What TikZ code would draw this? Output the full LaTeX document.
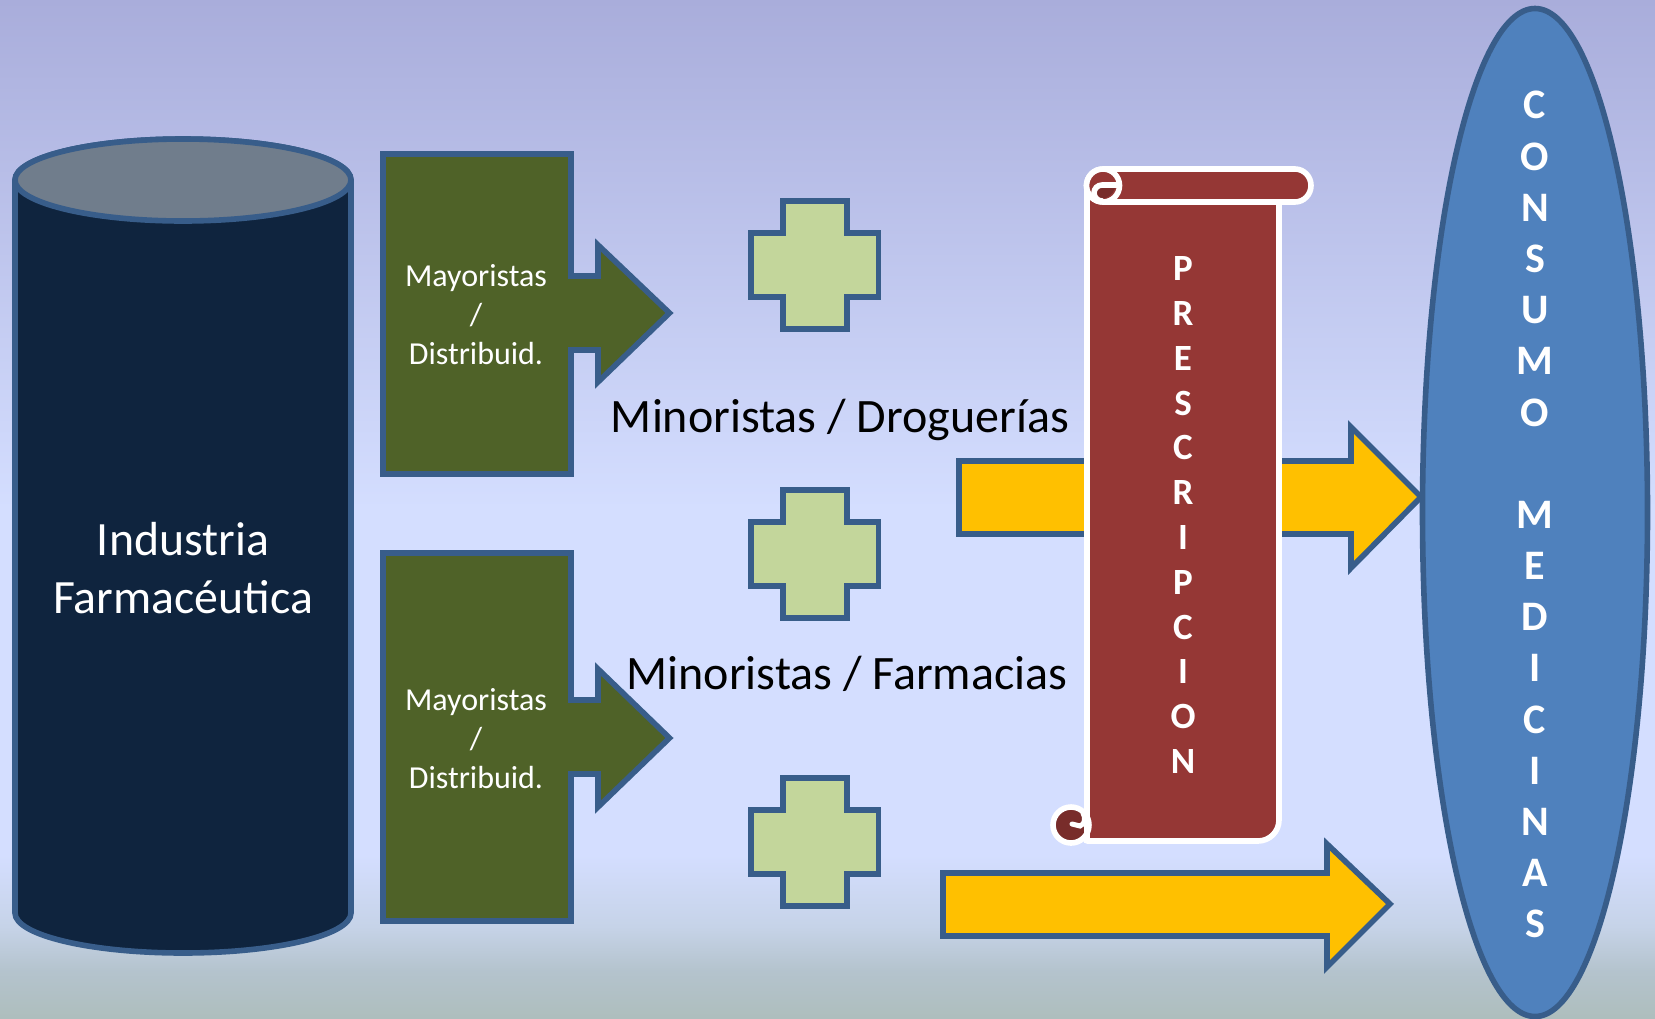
\documentclass[tikz,border=0pt]{standalone}
\usepackage{fontspec}
\setmainfont{Carlito}
\definecolor{edgeblue}{RGB}{56,93,138}
\definecolor{navy}{RGB}{15,36,62}
\definecolor{capgrey}{RGB}{112,125,140}
\definecolor{olive}{RGB}{79,98,40}
\definecolor{palegreen}{RGB}{195,214,155}
\definecolor{amber}{RGB}{255,192,0}
\definecolor{brick}{RGB}{149,55,53}
\definecolor{brickdark}{RGB}{120,44,42}
\definecolor{ovalblue}{RGB}{79,129,189}
\definecolor{bga}{RGB}{174,190,189}
\definecolor{bgb}{RGB}{180,195,205}
\definecolor{bgc}{RGB}{198,211,232}
\definecolor{bgd}{RGB}{212,222,255}
\definecolor{bgf}{RGB}{169,173,219}
% TikZ fits the path to the central 25bp..75bp band of a vertical shading
\pgfdeclareverticalshading{bggrad}{100bp}{
 color(0bp)=(bga);
 color(25bp)=(bga);
 color(27.3bp)=(bgb);
 color(29.5bp)=(bgc);
 color(33bp)=(bgd);
 color(50bp)=(bgd);
 color(75bp)=(bgf);
 color(100bp)=(bgf)}
\tikzset{
 x=0.5pt,y=-0.5pt,
 solidshape/.style={draw=edgeblue,line width=2.8pt,line join=miter},
 smalltext/.style={text=white,font=\fontsize{16}{16}\selectfont,inner sep=0pt},
 bigtext/.style={text=white,font=\fontsize{23.9}{24}\selectfont,inner sep=0pt},
 midtext/.style={text=black,font=\fontsize{24}{24}\selectfont,inner sep=0pt},
 letterp/.style={text=white,font=\fontsize{18.5}{18.5}\selectfont\bfseries,inner sep=0pt},
 letterc/.style={text=white,font=\fontsize{21}{21}\selectfont\bfseries,inner sep=0pt},
 scrollline/.style={draw=white,line width=2.8pt,line join=round}
}
\begin{document}
\begin{tikzpicture}
\useasboundingbox (0,0) rectangle (1655,1018);
\clip (0,0) rectangle (1655,1018);
\shade[shading=bggrad] (0,0) rectangle (1655,1018);
% cylinder
\path[solidshape,fill=navy] (15,180) -- (15,913) arc[start angle=180,end angle=0,x radius=168,y radius=40] -- (351,180) arc[start angle=0,end angle=-180,x radius=168,y radius=41] -- cycle;
\path[solidshape,fill=capgrey] (183,180) ellipse[x radius=168,y radius=41];
\node[bigtext] (ind1) at (183,539) {Industria};
\node[bigtext] (ind2) at (183,597) {Farmacéutica};
% olive arrows
\path[solidshape,fill=olive] (383,154) -- (571,154) -- (571,276) -- (598,276) -- (598,245) -- (669.5,313) -- (598,382) -- (598,350) -- (571,350) -- (571,474) -- (383,474) -- cycle;
\path[solidshape,fill=olive] (383,553) -- (571,553) -- (571,700) -- (598,700) -- (598,669) -- (669.5,738) -- (598,807) -- (598,774) -- (571,774) -- (571,921) -- (383,921) -- cycle;
\node[smalltext] (may1) at (476,278) {Mayoristas};
\node[smalltext] (sl1) at (476,315) {/};
\node[smalltext] (dis1) at (476,353.5) {Distribuid.};
\node[smalltext] (may2) at (476,702) {Mayoristas};
\node[smalltext] (sl2) at (476,739) {/};
\node[smalltext] (dis2) at (476,777.5) {Distribuid.};
% crosses
\foreach \cy in {265,554,842}{
 \path[solidshape,fill=palegreen] (783,\cy-64) -- (847,\cy-64) -- (847,\cy-32) -- (878.5,\cy-32) -- (878.5,\cy+32) -- (847,\cy+32) -- (847,\cy+64) -- (783,\cy+64) -- (783,\cy+32) -- (751,\cy+32) -- (751,\cy-32) -- (783,\cy-32) -- cycle;
}
\node[midtext] (dro) at (840,420) {Minoristas / Droguerías};
\node[midtext] (far) at (847,674) {Minoristas / Farmacias};
% amber arrows
\path[solidshape,fill=amber] (959,461) -- (1351,461) -- (1351,427) -- (1421,497) -- (1351,568) -- (1351,534) -- (959,534) -- cycle;
\path[solidshape,fill=amber] (943,873) -- (1327,873) -- (1327,844) -- (1390,904) -- (1327,967) -- (1327,936) -- (943,936) -- cycle;
% scroll
\path[scrollline,fill=brick] (1087,186) -- (1087,841) -- (1258,841) arc[start angle=90,end angle=0,radius=21] -- (1279,190) -- cycle;
\path[scrollline,fill=brick] (1103,169) -- (1295,169) arc[start angle=-90,end angle=90,x radius=16,y radius=16.5] -- (1103,202) arc[start angle=90,end angle=270,radius=16.5] -- cycle;
\path[scrollline,fill=brick] (1103,169) arc[start angle=-90,end angle=270,radius=16.5];
\path[fill=brickdark] (1098,188) -- (1115,188) .. controls (1113,195) and (1106,199) .. (1101,199) .. controls (1097,196) and (1096,192) .. (1098,188) -- cycle;
\path[draw=white,line width=2.8pt,line cap=round] (1119,185) -- (1102,185) arc[start angle=-90,end angle=-270,radius=8];
% lower curl
\path[draw=white,line width=2.8pt,fill=brickdark] (1089,825) arc[start angle=0,end angle=360,radius=18];
\path[draw=white,line width=2.8pt] (1087,808) -- (1087,843);
\path[draw=white,line width=2.5pt,line cap=round] (1072,824) -- (1080,826) .. controls (1086,824) and (1085,817) .. (1083,813);
\node[letterp] (p1) at (1183,268.5) {P};
\node[letterp] (p2) at (1183,313.5) {R};
\node[letterp] (p3) at (1183,358.5) {E};
\node[letterp] (p4) at (1183,403.5) {S};
\node[letterp] (p5) at (1183,447.5) {C};
\node[letterp] (p6) at (1183,492.5) {R};
\node[letterp] (p7) at (1183,537.5) {I};
\node[letterp] (p8) at (1183,582.5) {P};
\node[letterp] (p9) at (1183,627.5) {C};
\node[letterp] (p10) at (1183,671.5) {I};
\node[letterp] (p11) at (1183,716.5) {O};
\node[letterp] (p12) at (1183,761.5) {N};
% oval
\path[solidshape,fill=ovalblue] (1535,512.5) ellipse[x radius=112.5,y radius=504];
\node[letterc] (c1) at (1535,105) {C};
\node[letterc] (c2) at (1535,157) {O};
\node[letterc] (c3) at (1535,208) {N};
\node[letterc] (c4) at (1535,259) {S};
\node[letterc] (c5) at (1535,310) {U};
\node[letterc] (c6) at (1535,361) {M};
\node[letterc] (c7) at (1535,413) {O};
\node[letterc] (c8) at (1535,515) {M};
\node[letterc] (c9) at (1535,566) {E};
\node[letterc] (c10) at (1535,617) {D};
\node[letterc] (c11) at (1535,668) {I};
\node[letterc] (c12) at (1535,720) {C};
\node[letterc] (c13) at (1535,771) {I};
\node[letterc] (c14) at (1535,822) {N};
\node[letterc] (c15) at (1535,873) {A};
\node[letterc] (c16) at (1535,924) {S};
\end{tikzpicture}
\end{document}
